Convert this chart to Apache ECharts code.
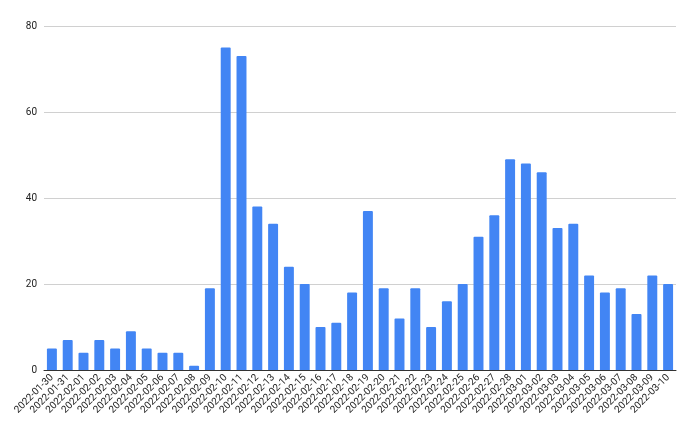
<!DOCTYPE html>
<html><head><meta charset="utf-8">
<script src="https://cdn.jsdelivr.net/npm/echarts@6/dist/echarts.min.js"></script>
<style>html,body{margin:0;padding:0;background:#fff}#c{width:700px;height:433px}</style>
</head><body><div id="c"></div>
<script>
const categories = ["2022-01-30","2022-01-31","2022-02-01","2022-02-02","2022-02-03","2022-02-04","2022-02-05","2022-02-06","2022-02-07","2022-02-08","2022-02-09","2022-02-10","2022-02-11","2022-02-12","2022-02-13","2022-02-14","2022-02-15","2022-02-16","2022-02-17","2022-02-18","2022-02-19","2022-02-20","2022-02-21","2022-02-22","2022-02-23","2022-02-24","2022-02-25","2022-02-26","2022-02-27","2022-02-28","2022-03-01","2022-03-02","2022-03-03","2022-03-04","2022-03-05","2022-03-06","2022-03-07","2022-03-08","2022-03-09","2022-03-10"];
const values = [5,7,4,7,5,9,5,4,4,1,19,75,73,38,34,24,20,10,11,18,37,19,12,19,10,16,20,31,36,49,48,46,33,34,22,18,19,13,22,20];
const yTicks = [0,20,40,60,80];

const chart = echarts.init(document.getElementById('c'), null, {renderer:'canvas'});
chart.setOption({
  animation:false,
  grid:{left:44,right:24,top:26,bottom:63,containLabel:false},
  xAxis:{type:'category',data:categories,
    axisLine:{lineStyle:{color:'#333',width:1}},
    axisTick:{show:false},
    axisLabel:{rotate:45,interval:0,fontSize:10,color:'#222',fontFamily:'Roboto',margin:6}},
  yAxis:{type:'value',min:yTicks[0],max:yTicks[yTicks.length-1],interval:20,
    axisLine:{show:false},axisTick:{show:false},
    splitLine:{lineStyle:{color:'#d0d0d0'}},
    axisLabel:{fontSize:10,color:'#222',fontFamily:'Roboto',margin:7}},
  series:[{type:'bar',data:values,barCategoryGap:'37%',
    itemStyle:{color:'#4285F4',borderRadius:[1,1,0,0]}}]
});
</script></body></html>
